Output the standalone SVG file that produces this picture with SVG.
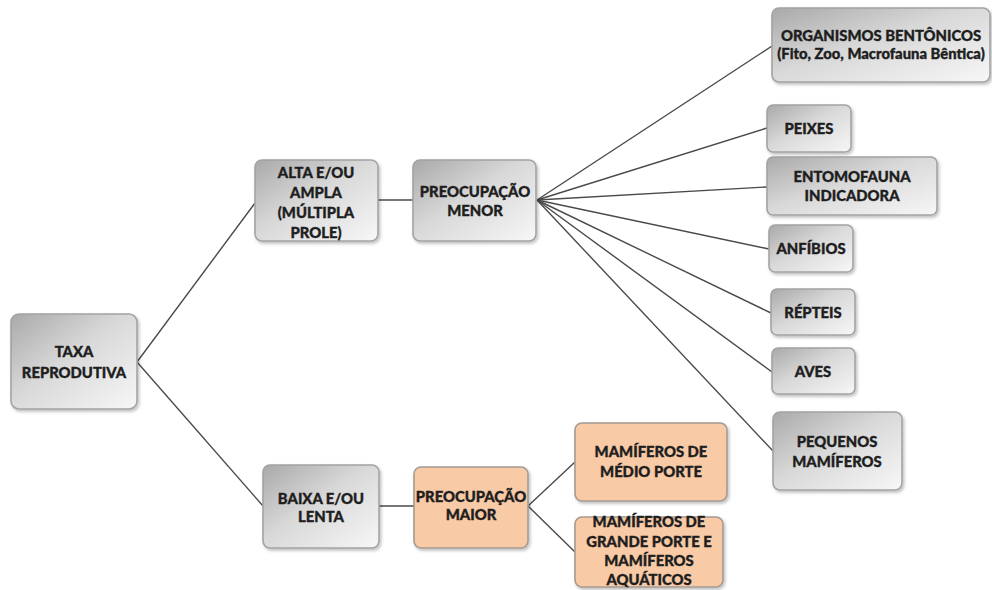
<svg xmlns="http://www.w3.org/2000/svg" width="992" height="590" viewBox="0 0 992 590">
  <defs>
    <linearGradient id="gGray" x1="0" y1="0" x2="1" y2="1">
      <stop offset="0" stop-color="#a9a9a9"/>
      <stop offset="0.45" stop-color="#d8d8d8"/>
      <stop offset="1" stop-color="#f7f7f7"/>
    </linearGradient>
    <filter id="shadow" x="-10%" y="-10%" width="125%" height="130%">
      <feDropShadow dx="1.5" dy="2" stdDeviation="1.5" flood-color="#000" flood-opacity="0.25"/>
    </filter>
    <style>
      .box { fill: url(#gGray); stroke: #a3a3a3; stroke-width: 1.6; filter: url(#shadow); }
      .warm { fill: #f9caa6; stroke: #a59a92; stroke-width: 1.6; filter: url(#shadow); }
      .lbl { font-family: Lato, "Liberation Sans", sans-serif; font-weight: 900; font-size: 14.8px; fill: #1e1e1e; stroke: #1e1e1e; stroke-width: 0.35; text-anchor: middle; }
      .edge { stroke: #4a4a4a; stroke-width: 1.4; fill: none; }
    </style>
  </defs>
  <rect width="992" height="590" fill="#ffffff"/>

  <!-- connectors -->
  <g id="connectors">
    <line class="edge" x1="137" y1="362" x2="255" y2="203"/>
    <line class="edge" x1="137" y1="362" x2="263" y2="506"/>
    <line class="edge" x1="378" y1="200" x2="413" y2="200"/>
    <line class="edge" x1="379" y1="506" x2="414" y2="506"/>
    <line class="edge" x1="537" y1="200" x2="772" y2="46"/>
    <line class="edge" x1="537" y1="200" x2="767" y2="128"/>
    <line class="edge" x1="537" y1="200" x2="767" y2="187"/>
    <line class="edge" x1="537" y1="200" x2="769" y2="249"/>
    <line class="edge" x1="537" y1="200" x2="771" y2="313"/>
    <line class="edge" x1="537" y1="200" x2="772" y2="372"/>
    <line class="edge" x1="537" y1="200" x2="773" y2="451"/>
    <line class="edge" x1="528" y1="506" x2="575" y2="462"/>
    <line class="edge" x1="528" y1="506" x2="575" y2="552"/>
  </g>

  <g id="taxa">
    <rect class="box" x="11" y="314" width="126" height="95" rx="8"/>
    <text class="lbl" x="74" y="357">TAXA</text>
    <text class="lbl" x="74" y="378">REPRODUTIVA</text>
  </g>

  <g id="alta">
    <rect class="box" x="255" y="160" width="123" height="81" rx="7"/>
    <text class="lbl" x="316" y="178">ALTA E/OU</text>
    <text class="lbl" x="316" y="198">AMPLA</text>
    <text class="lbl" x="316" y="218">(MÚLTIPLA</text>
    <text class="lbl" x="316" y="238">PROLE)</text>
  </g>

  <g id="menor">
    <rect class="box" x="413" y="160" width="123" height="81" rx="7"/>
    <text class="lbl" x="475" y="197">PREOCUPAÇÃO</text>
    <text class="lbl" x="475" y="216">MENOR</text>
  </g>

  <g id="baixa">
    <rect class="box" x="263" y="465" width="116" height="83" rx="7"/>
    <text class="lbl" x="321" y="504">BAIXA E/OU</text>
    <text class="lbl" x="321" y="522">LENTA</text>
  </g>

  <g id="maior">
    <rect class="warm" x="414" y="467" width="114" height="81" rx="7"/>
    <text class="lbl" x="471" y="502">PREOCUPAÇÃO</text>
    <text class="lbl" x="471" y="520">MAIOR</text>
  </g>

  <g id="bentonicos">
    <rect class="box" x="772" y="8" width="218" height="74" rx="7"/>
    <text class="lbl" x="881" y="41">ORGANISMOS BENTÔNICOS</text>
    <text class="lbl" x="881" y="59">(Fito, Zoo, Macrofauna Bêntica)</text>
  </g>

  <g id="peixes">
    <rect class="box" x="767" y="105" width="84" height="47" rx="6"/>
    <text class="lbl" x="809" y="134">PEIXES</text>
  </g>

  <g id="entomofauna">
    <rect class="box" x="767" y="157" width="170" height="58" rx="6"/>
    <text class="lbl" x="852" y="182">ENTOMOFAUNA</text>
    <text class="lbl" x="852" y="201">INDICADORA</text>
  </g>

  <g id="anfibios">
    <rect class="box" x="769" y="225" width="84" height="47" rx="6"/>
    <text class="lbl" x="811" y="254">ANFÍBIOS</text>
  </g>

  <g id="repteis">
    <rect class="box" x="771" y="289" width="84" height="46" rx="6"/>
    <text class="lbl" x="813" y="318">RÉPTEIS</text>
  </g>

  <g id="aves">
    <rect class="box" x="772" y="348" width="83" height="46" rx="6"/>
    <text class="lbl" x="813" y="377">AVES</text>
  </g>

  <g id="pequenos">
    <rect class="box" x="773" y="412" width="129" height="78" rx="7"/>
    <text class="lbl" x="837" y="447">PEQUENOS</text>
    <text class="lbl" x="837" y="467">MAMÍFEROS</text>
  </g>

  <g id="medio">
    <rect class="warm" x="575" y="423" width="152" height="78" rx="7"/>
    <text class="lbl" x="651" y="457">MAMÍFEROS DE</text>
    <text class="lbl" x="651" y="477">MÉDIO PORTE</text>
  </g>

  <g id="grande">
    <rect class="warm" x="575" y="517" width="148" height="70" rx="7"/>
    <text class="lbl" x="649" y="527">MAMÍFEROS DE</text>
    <text class="lbl" x="649" y="547">GRANDE PORTE E</text>
    <text class="lbl" x="649" y="566">MAMÍFEROS</text>
    <text class="lbl" x="649" y="585">AQUÁTICOS</text>
  </g>
</svg>
